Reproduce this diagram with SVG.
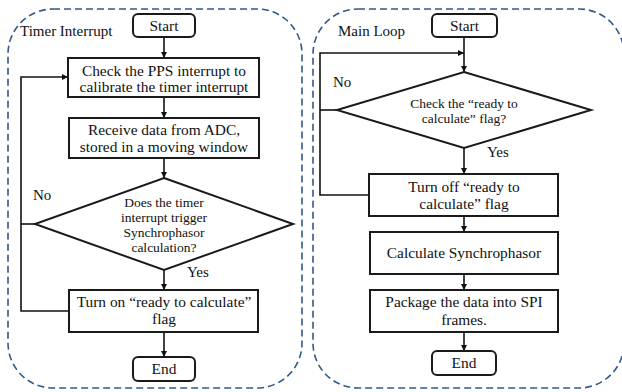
<svg xmlns="http://www.w3.org/2000/svg" width="622" height="392" viewBox="0 0 622 392" font-family="'Liberation Serif', 'Times New Roman', Times, serif">
  <defs>
    <marker id="arrow" viewBox="0 0 10 10" refX="10" refY="5" markerWidth="6" markerHeight="6" markerUnits="userSpaceOnUse" orient="auto">
      <path d="M0,0 L10,5 L0,10 z" fill="#111"/>
    </marker>
    <style>
      .panel { fill: none; stroke: #2f5a8c; stroke-width: 1.6; stroke-dasharray: 7 4; }
      .box { fill: #fff; stroke: #1a1a1a; stroke-width: 2; }
      .line { fill: none; stroke: #111; stroke-width: 1.6; }
      text { font-family: 'Liberation Serif', 'Times New Roman', Times, serif; fill: #111; }
      .t { font-size: 15.4px; text-anchor: middle; }
      .d { font-size: 13.5px; text-anchor: middle; }
      .lbl { font-size: 15px; }
    </style>
  </defs>

  <!-- panels -->
  <rect class="panel" x="8" y="9" width="294" height="379" rx="45" ry="45"/>
  <rect class="panel" x="313" y="9" width="311" height="379" rx="45" ry="45"/>
  <text class="lbl" x="20" y="36">Timer Interrupt</text>
  <text class="lbl" x="338" y="36">Main Loop</text>

  <!-- connectors -->
  <g id="connectors">
    <line class="line" x1="164" y1="37" x2="164" y2="58" marker-end="url(#arrow)"/>
    <line class="line" x1="164" y1="97" x2="164" y2="118" marker-end="url(#arrow)"/>
    <line class="line" x1="164" y1="158" x2="164" y2="178" marker-end="url(#arrow)"/>
    <line class="line" x1="164" y1="270" x2="164" y2="290" marker-end="url(#arrow)"/>
    <line class="line" x1="164" y1="332" x2="164" y2="357" marker-end="url(#arrow)"/>
    <polyline class="line" points="35,224 21,224"/>
    <polyline class="line" points="69,311 21,311 21,77 68,77" marker-end="url(#arrow)"/>
    <text class="lbl" x="33" y="200">No</text>
    <text class="lbl" x="187" y="277">Yes</text>

    <line class="line" x1="464" y1="37" x2="464" y2="72" marker-end="url(#arrow)"/>
    <polyline class="line" points="369,195 320,195 320,53 464,53" marker-end="url(#arrow)"/>
    <polyline class="line" points="337,110 320,110"/>
    <line class="line" x1="464" y1="148" x2="464" y2="174" marker-end="url(#arrow)"/>
    <line class="line" x1="464" y1="216" x2="464" y2="232" marker-end="url(#arrow)"/>
    <line class="line" x1="464" y1="274" x2="464" y2="290" marker-end="url(#arrow)"/>
    <line class="line" x1="464" y1="332" x2="464" y2="351" marker-end="url(#arrow)"/>
    <text class="lbl" x="333" y="87">No</text>
    <text class="lbl" x="487" y="157">Yes</text>
  </g>

  <!-- timer interrupt flow -->
  <g id="ti-start">
    <rect class="box" x="133" y="14" width="62" height="23" rx="5"/>
    <text class="t" x="164" y="31">Start</text>
  </g>
  <g id="ti-pps">
    <rect class="box" x="68" y="58" width="191" height="39"/>
    <text class="t" x="164" y="76">Check the PPS interrupt to</text>
    <text class="t" x="164" y="92">calibrate the timer interrupt</text>
  </g>
  <g id="ti-adc">
    <rect class="box" x="69" y="118" width="190" height="40"/>
    <text class="t" x="164" y="135">Receive data from ADC,</text>
    <text class="t" x="164" y="152">stored in a moving window</text>
  </g>
  <g id="ti-decision">
    <polygon class="box" points="164,178 293,224 164,270 35,224"/>
    <text class="d" x="164" y="207">Does the timer</text>
    <text class="d" x="164" y="222">interrupt trigger</text>
    <text class="d" x="164" y="237">Synchrophasor</text>
    <text class="d" x="164" y="252">calculation?</text>
  </g>
  <g id="ti-flag-on">
    <rect class="box" x="69" y="290" width="189" height="42"/>
    <text class="t" x="164" y="307">Turn on “ready to calculate”</text>
    <text class="t" x="164" y="324">flag</text>
  </g>
  <g id="ti-end">
    <rect class="box" x="133" y="357" width="62" height="24" rx="5"/>
    <text class="t" x="164" y="374">End</text>
  </g>

  <!-- main loop flow -->
  <g id="ml-start">
    <rect class="box" x="432" y="14" width="65" height="23" rx="5"/>
    <text class="t" x="464.5" y="31">Start</text>
  </g>
  <g id="ml-decision">
    <polygon class="box" points="464,72 591,110 464,148 337,110"/>
    <text class="d" x="464" y="108">Check the “ready to</text>
    <text class="d" x="464" y="123">calculate” flag?</text>
  </g>
  <g id="ml-flag-off">
    <rect class="box" x="369" y="174" width="189" height="42"/>
    <text class="t" x="464" y="192">Turn off “ready to</text>
    <text class="t" x="464" y="209">calculate” flag</text>
  </g>
  <g id="ml-calc">
    <rect class="box" x="370" y="232" width="188" height="42"/>
    <text class="t" x="464" y="258">Calculate Synchrophasor</text>
  </g>
  <g id="ml-package">
    <rect class="box" x="370" y="290" width="188" height="42"/>
    <text class="t" x="464" y="307">Package the data into SPI</text>
    <text class="t" x="464" y="325">frames.</text>
  </g>
  <g id="ml-end">
    <rect class="box" x="432" y="351" width="64" height="24" rx="5"/>
    <text class="t" x="464" y="368">End</text>
  </g>
</svg>
